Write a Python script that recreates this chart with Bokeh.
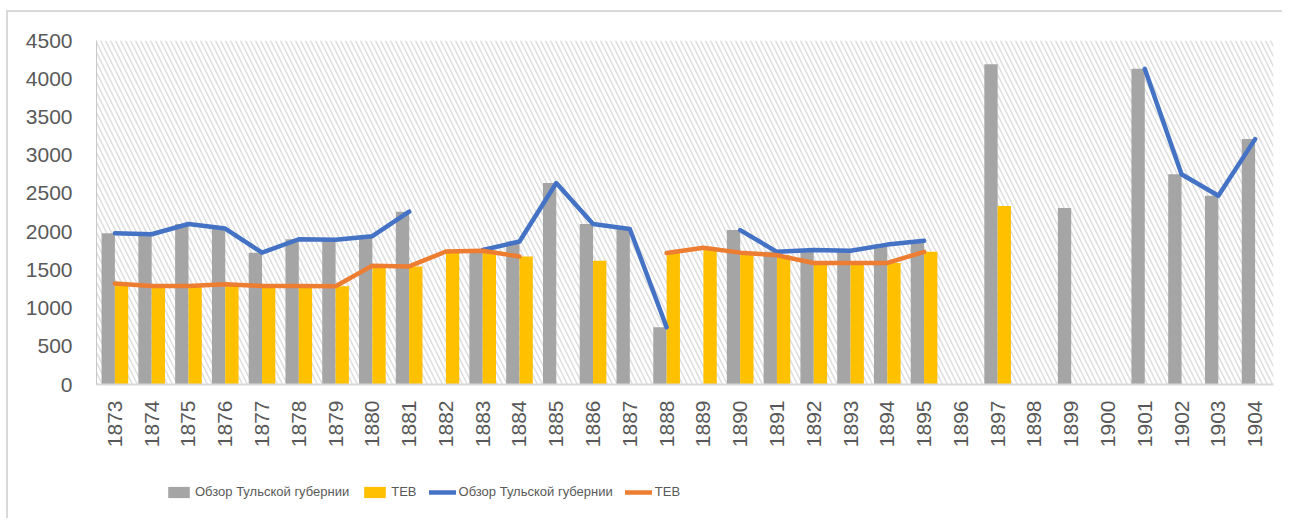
import math
from bokeh.plotting import figure
from bokeh.layouts import column
from bokeh.models import (ColumnDataSource, FactorRange, Range1d, Legend, LegendItem,
                          BoxAnnotation, FixedTicker)
from bokeh.transform import dodge
from bokeh.embed import file_html
from bokeh.resources import INLINE

years = [str(y) for y in range(1873, 1905)]
obzor = [1980, 1965, 2100, 2040, 1725, 1900, 1895, 1940, 2260, None, 1760, 1870, 2635, 2100,
         2035, 750, None, 2020, 1735, 1760, 1750, 1830, 1880, None, 4190, None, 2310, None,
         4130, 2750, 2470, 3210]
tev = [1320, 1290, 1290, 1310, 1290, 1290, 1285, 1555, 1545, 1740, 1750, 1675, None, 1620,
       None, 1720, 1790, 1725, 1690, 1590, 1590, 1590, 1735, None, 2335, None, None, None,
       None, None, None, None]
y_ticks = list(range(0, 4501, 500))
label_obzor = "Обзор Тульской губернии"
label_tev = "ТЕВ"

GRAY = "#A5A5A5"
YELLOW = "#FFC000"
BLUE = "#4472C4"
ORANGE = "#ED7D31"
TXT = "#595959"
FONT = "Liberation Sans"

bar_o = ColumnDataSource(dict(x=[y for y, v in zip(years, obzor) if v is not None],
                              top=[v for v in obzor if v is not None]))
bar_t = ColumnDataSource(dict(x=[y for y, v in zip(years, tev) if v is not None],
                              top=[v for v in tev if v is not None]))
line_src = ColumnDataSource(dict(
    x=years,
    o=[float("nan") if v is None else v for v in obzor],
    t=[float("nan") if v is None else v for v in tev]))

p = figure(x_range=FactorRange(*years), y_range=Range1d(0, 4500),
           frame_width=1177, frame_height=344,
           min_border_left=88, min_border_top=28, min_border_right=9, min_border_bottom=90,
           output_backend="svg", toolbar_location=None)
p.outline_line_color = None
p.xgrid.visible = False
p.ygrid.visible = False
p.background_fill_color = "white"

bg = BoxAnnotation(fill_color="white", fill_alpha=1, line_color=None,
                   hatch_pattern="\\", hatch_color="#dedede", hatch_scale=10,
                   hatch_weight=1.5, level="underlay")
p.add_layout(bg)

w = 0.362
bar_style_o = dict(fill_color=GRAY, line_color=None)
bar_style_t = dict(fill_color=YELLOW, line_color=None)
line_style_o = dict(line_color=BLUE, line_width=4.5, line_join="round", line_cap="round")
line_style_t = dict(line_color=ORANGE, line_width=4.5, line_join="round", line_cap="round")

p.vbar(x=dodge("x", -w / 2, range=p.x_range), top="top", width=w, source=bar_o, **bar_style_o)
p.vbar(x=dodge("x", w / 2, range=p.x_range), top="top", width=w, source=bar_t, **bar_style_t)
p.line(x="x", y="o", source=line_src, **line_style_o)
p.line(x="x", y="t", source=line_src, **line_style_t)

p.yaxis.ticker = FixedTicker(ticks=y_ticks)
for ax in (p.xaxis[0], p.yaxis[0]):
    ax.major_tick_line_color = None
    ax.minor_tick_line_color = None
    ax.major_tick_out = 0
    ax.major_tick_in = 0
    ax.major_label_text_font = FONT
    ax.major_label_text_font_size = "21px"
    ax.major_label_text_color = TXT
p.yaxis.axis_line_color = "#c8c8c8"
p.yaxis.major_label_standoff = 24
p.xaxis.axis_line_color = "#d9d9d9"
p.xaxis.axis_line_width = 2
p.xaxis.major_label_orientation = math.pi / 2
p.xaxis.major_label_standoff = 16

# legend strip (separate figure below the chart, legend inside its frame)
lg = figure(width=1274, height=44, output_backend="svg", toolbar_location=None,
            min_border=0, x_range=Range1d(0, 1), y_range=Range1d(0, 1))
lg.axis.visible = False
lg.grid.visible = False
lg.outline_line_color = None
nan = float("nan")
blank = ColumnDataSource(dict(x=[nan], y=[nan], top=[nan]))
l1 = lg.vbar(x="x", top="top", width=0.1, source=blank, **bar_style_o)
l2 = lg.vbar(x="x", top="top", width=0.1, source=blank, **bar_style_t)
l3 = lg.line(x="x", y="y", source=blank, **line_style_o)
l4 = lg.line(x="x", y="y", source=blank, **line_style_t)
legend = Legend(items=[LegendItem(label=label_obzor, renderers=[l1]),
                       LegendItem(label=label_tev, renderers=[l2]),
                       LegendItem(label=label_obzor, renderers=[l3]),
                       LegendItem(label=label_tev, renderers=[l4])],
                orientation="horizontal", location=(69, 19),
                border_line_color=None, background_fill_alpha=0,
                glyph_width=27, glyph_height=14, label_standoff=3, spacing=12,
                padding=5, margin=0,
                label_text_font=FONT, label_text_font_size="13px", label_text_color=TXT)
lg.add_layout(legend)

layout = column(p, lg, spacing=0)
layout.styles = {"margin-left": "6px", "margin-top": "10px",
                 "border-left": "2px solid #d9d9d9", "border-top": "2px solid #d9d9d9"}

open("out.html", "w").write(file_html(layout, INLINE))
